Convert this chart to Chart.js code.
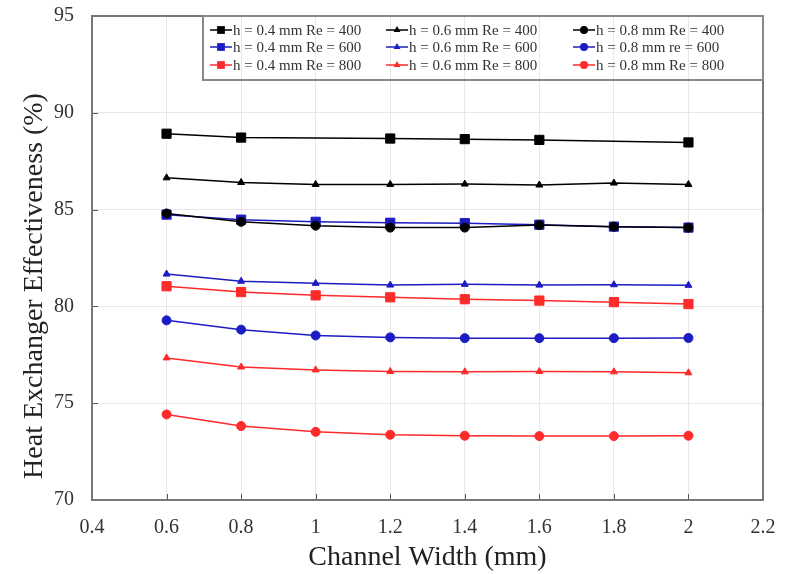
<!DOCTYPE html>
<html>
<head>
<meta charset="utf-8">
<script src="https://cdn.jsdelivr.net/npm/chart.js@4"></script>
<style>
  body { margin: 0; background: #fff; }
  #wrap { width: 785px; height: 574px; }
</style>
</head>
<body>
<div id="wrap"><canvas id="effChart"></canvas></div>
<script>
const widths = [0.6, 0.8, 1.0, 1.2, 1.4, 1.6, 1.8, 2.0];
const xTicks = [0.4, 0.6, 0.8, 1, 1.2, 1.4, 1.6, 1.8, 2, 2.2];
const yTicks = [70, 75, 80, 85, 90, 95];
const xTitle = "Channel Width (mm)";
const yTitle = "Heat Exchanger Effectiveness (%)";

const labels = [
  "h = 0.4 mm Re = 400", "h = 0.6 mm Re = 400", "h = 0.8 mm Re = 400",
  "h = 0.4 mm Re = 600", "h = 0.6 mm Re = 600", "h = 0.8 mm re = 600",
  "h = 0.4 mm Re = 800", "h = 0.6 mm Re = 800", "h = 0.8 mm Re = 800"
];

const h04re400 = [88.92, 88.72, null, 88.67, 88.64, 88.6, null, 88.47];
const h06re400 = [86.64, 86.4, 86.3, 86.3, 86.32, 86.27, 86.37, 86.3];
const h08re400 = [84.8, 84.37, 84.17, 84.07, 84.07, 84.2, 84.12, 84.07];
const h04re600 = [84.74, 84.48, 84.37, 84.32, 84.3, 84.22, 84.12, 84.07];
const h06re600 = [81.67, 81.3, 81.19, 81.1, 81.14, 81.1, 81.12, 81.09];
const h08re600 = [79.28, 78.8, 78.5, 78.4, 78.36, 78.36, 78.36, 78.37];
const h04re800 = [81.04, 80.74, 80.57, 80.47, 80.37, 80.3, 80.22, 80.12];
const h06re800 = [77.34, 76.87, 76.72, 76.64, 76.62, 76.64, 76.62, 76.57];
const h08re800 = [74.42, 73.82, 73.52, 73.37, 73.32, 73.3, 73.3, 73.32];

const seriesValues = [h04re400, h06re400, h08re400, h04re600, h06re600, h08re600, h04re800, h06re800, h08re800];
const colors = ["#000000", "#1c1cc4", "#ff2a2a"];
const shapes = ["rect", "triangle", "circle"];
const radii = { rect: 6.5, triangle: 4, circle: 4.5 };

const datasets = seriesValues.map((vals, i) => {
  const color = colors[Math.floor(i / 3)];
  const shape = shapes[i % 3];
  return {
    label: labels[i],
    data: vals.map((v, j) => ({ x: widths[j], y: v })),
    borderColor: color,
    backgroundColor: color,
    borderWidth: 1.5,
    pointStyle: shape,
    pointRadius: radii[shape],
    pointBorderWidth: 1,
    spanGaps: true,
    tension: 0
  };
});

const serif = "'Liberation Serif', 'DejaVu Serif', serif";

function drawMarker(ctx, shape, x, y, r) {
  ctx.beginPath();
  if (shape === "rect") {
    const s = r * Math.SQRT1_2;
    ctx.rect(x - s, y - s, 2 * s, 2 * s);
  } else if (shape === "triangle") {
    ctx.moveTo(x, y - r);
    ctx.lineTo(x + r * 0.87, y + r * 0.5);
    ctx.lineTo(x - r * 0.87, y + r * 0.5);
    ctx.closePath();
  } else {
    ctx.arc(x, y, r, 0, Math.PI * 2);
  }
  ctx.fill();
}

const framePlugin = {
  id: "frame",
  afterDraw(chart) {
    const { ctx, chartArea: a, scales } = chart;
    ctx.save();
    // inner tick marks
    ctx.strokeStyle = "#555";
    ctx.lineWidth = 1;
    scales.y.ticks.forEach(t => {
      const py = Math.round(scales.y.getPixelForValue(t.value)) + 0.5;
      ctx.beginPath(); ctx.moveTo(a.left, py); ctx.lineTo(a.left + 6, py); ctx.stroke();
    });
    scales.x.ticks.forEach(t => {
      const px = Math.round(scales.x.getPixelForValue(t.value)) + 0.5;
      ctx.beginPath(); ctx.moveTo(px, a.bottom); ctx.lineTo(px, a.bottom - 6); ctx.stroke();
    });
    // frame
    ctx.strokeStyle = "#777";
    ctx.lineWidth = 2;
    ctx.strokeRect(a.left, a.top, a.right - a.left, a.bottom - a.top);

    // y title, sits a bit low as in the original
    ctx.fillStyle = "#222";
    ctx.font = "28px " + serif;
    ctx.textAlign = "center";
    ctx.textBaseline = "middle";
    ctx.translate(35, 286);
    ctx.rotate(-Math.PI / 2);
    ctx.fillText(yTitle, 0, 0);
    ctx.setTransform(1, 0, 0, 1, 0, 0);

    // legend box
    const lx = 203, ly = a.top, lw = a.right - 203, lh = 64;
    ctx.strokeStyle = "#888";
    ctx.lineWidth = 2;
    ctx.strokeRect(lx, ly, lw, lh);
    const colX = [210, 386, 573];
    const rowY = [ly + 14, ly + 31, ly + 49];
    ctx.font = "15px " + serif;
    ctx.textAlign = "left";
    ctx.textBaseline = "middle";
    chart.data.datasets.forEach((ds, i) => {
      const x0 = colX[i % 3], y0 = rowY[Math.floor(i / 3)];
      ctx.strokeStyle = ds.borderColor;
      ctx.fillStyle = ds.borderColor;
      ctx.lineWidth = 1.5;
      ctx.beginPath(); ctx.moveTo(x0, y0); ctx.lineTo(x0 + 22, y0); ctx.stroke();
      drawMarker(ctx, ds.pointStyle, x0 + 11, y0, ds.pointStyle === "rect" ? 5.5 : 4);
      ctx.fillStyle = "#333";
      ctx.fillText(ds.label, x0 + 23, y0 + 1);
    });
    ctx.restore();
  }
};

new Chart(document.getElementById("effChart").getContext("2d"), {
  type: "line",
  data: { datasets },
  plugins: [framePlugin],
  options: {
    responsive: true,
    maintainAspectRatio: false,
    animation: false,
    layout: { padding: { left: 0, right: 22, top: 0, bottom: 0 } },
    plugins: { legend: { display: false }, tooltip: { enabled: false } },
    scales: {
      x: {
        type: "linear",
        min: 0.4,
        max: 2.2,
        afterBuildTicks: s => { s.ticks = xTicks.map(v => ({ value: v })); },
        afterFit: s => { s.height = 74; },
        grid: { color: "#e8e8e8", drawTicks: true, tickLength: 12, tickColor: "rgba(0,0,0,0)" },
        border: { display: false },
        ticks: { padding: 4, color: "#333", font: { family: serif, size: 20 }, callback: v => String(v) },
        title: { display: true, text: xTitle, color: "#222", font: { family: serif, size: 28 }, padding: 0 }
      },
      y: {
        min: 70,
        max: 95,
        afterBuildTicks: s => { s.ticks = yTicks.map(v => ({ value: v })); },
        afterFit: s => { s.width = 92; },
        grid: { color: "#e8e8e8", drawTicks: true, tickLength: 14, tickColor: "rgba(0,0,0,0)" },
        border: { display: false },
        ticks: { padding: 4, color: "#333", font: { family: serif, size: 20 }, callback: v => String(v) }
      }
    }
  }
});
</script>
</body>
</html>
